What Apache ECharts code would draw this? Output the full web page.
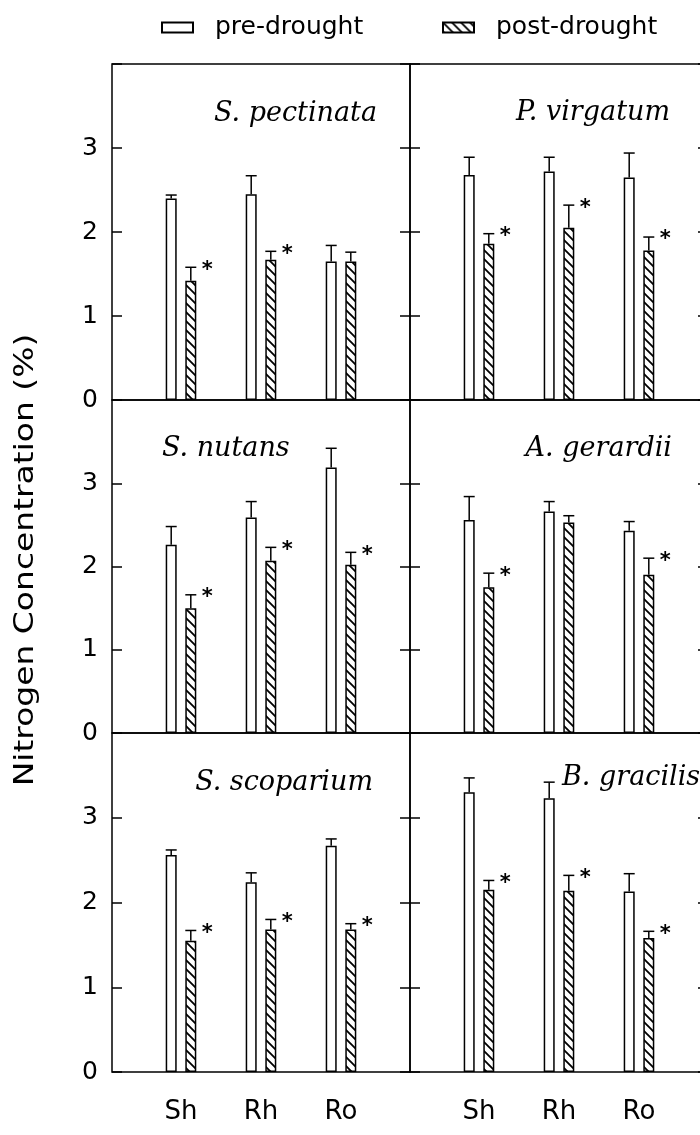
<!DOCTYPE html>
<html>
<head>
<meta charset="utf-8">
<script src="https://cdn.jsdelivr.net/npm/echarts@6/dist/echarts.min.js"></script>
<style>
  html, body { margin: 0; padding: 0; background: #fff; }
  #chart { width: 700px; height: 1135px; }
</style>
</head>
<body>
<div id="chart"></div>
<script>
// plant parts on the x axis
const parts = ['Sh', 'Rh', 'Ro'];
// panels, row by row (left, right)
const species = ['S. pectinata', 'P. virgatum', 'S. nutans', 'A. gerardii', 'S. scoparium', 'B. gracilis'];

// nitrogen concentration (%) before the drought
const preMean = [
  [2.40, 2.45, 1.65],
  [2.68, 2.72, 2.65],
  [2.26, 2.59, 3.19],
  [2.56, 2.66, 2.43],
  [2.56, 2.24, 2.67],
  [3.30, 3.23, 2.13]
];
const preErr = [
  [0.04, 0.22, 0.19],
  [0.21, 0.17, 0.29],
  [0.22, 0.19, 0.23],
  [0.28, 0.12, 0.11],
  [0.06, 0.11, 0.08],
  [0.17, 0.19, 0.21]
];
// after the drought
const postMean = [
  [1.42, 1.67, 1.65],
  [1.86, 2.05, 1.78],
  [1.50, 2.07, 2.02],
  [1.75, 2.53, 1.90],
  [1.55, 1.68, 1.68],
  [2.15, 2.14, 1.58]
];
const postErr = [
  [0.16, 0.10, 0.11],
  [0.12, 0.27, 0.16],
  [0.16, 0.16, 0.15],
  [0.17, 0.08, 0.20],
  [0.12, 0.12, 0.07],
  [0.11, 0.18, 0.08]
];
// 1 = significant change (asterisk)
const postSig = [
  [1, 1, 0],
  [1, 1, 1],
  [1, 1, 1],
  [1, 0, 1],
  [1, 1, 1],
  [1, 1, 1]
];

const FONT = 'DejaVu Sans';
const FRAME_X = [112, 410];
const FRAME_W = 298;
const ROW_TOP = [64, 400, 733];
const ROW_BOT = [400, 733, 1072];
const BAR_W = 11;
const BAR_GAP = 8.6;
const CAP = 5.5;

// diagonal hatching for the post-drought bars
function hatch() {
  const c = document.createElement('canvas');
  c.width = 9; c.height = 9;
  const g = c.getContext('2d');
  g.strokeStyle = '#000';
  g.lineWidth = 1.8;
  g.beginPath();
  g.moveTo(-1, -1); g.lineTo(10, 10);
  g.moveTo(-1, 8); g.lineTo(1, 10);
  g.moveTo(8, -1); g.lineTo(10, 1);
  g.stroke();
  return c;
}
const hatchFill = { image: hatch(), repeat: 'repeat' };

function errRender(offset) {
  return function (params, api) {
    const i = api.value(0);
    const base = api.coord([i, api.value(1)]);
    const top = api.coord([i, api.value(1) + api.value(2)]);
    const x = base[0] + offset;
    const st = { stroke: '#000', lineWidth: 1.5 };
    const kids = [
      { type: 'line', shape: { x1: x, y1: base[1], x2: x, y2: top[1] }, style: st },
      { type: 'line', shape: { x1: x - CAP, y1: top[1], x2: x + CAP, y2: top[1] }, style: st }
    ];
    if (api.value(3)) {
      kids.push({
        type: 'text', x: x + BAR_W / 2 + 11, y: top[1] + 3,
        style: { text: '*', fill: '#000', font: 'bold 21px "' + FONT + '"', align: 'center', verticalAlign: 'middle' }
      });
    }
    return { type: 'group', children: kids };
  };
}

const grids = [], xAxes = [], yAxes = [], series = [];
for (let i = 0; i < 6; i++) {
  const row = Math.floor(i / 2), col = i % 2;
  grids.push({
    left: FRAME_X[col], top: ROW_TOP[row], width: FRAME_W, height: ROW_BOT[row] - ROW_TOP[row],
    show: true, borderColor: '#000', borderWidth: 1.5, backgroundColor: 'transparent', outerBoundsMode: 'none'
  });
}
for (let i = 0; i < 6; i++) {
  const row = Math.floor(i / 2), col = i % 2;
  grids.push({
    left: FRAME_X[col] + 29, top: ROW_TOP[row], width: 240, height: ROW_BOT[row] - ROW_TOP[row],
    show: false, outerBoundsMode: 'none'
  });
}
for (let i = 0; i < 6; i++) {
  xAxes.push({ gridIndex: i, type: 'value', min: 0, max: 1, show: false });
}
for (let i = 0; i < 6; i++) {
  const row = Math.floor(i / 2);
  xAxes.push({
    gridIndex: 6 + i, type: 'category', data: parts,
    axisLine: { show: false }, axisTick: { show: false },
    axisLabel: { show: row === 2, color: '#000', fontFamily: FONT, fontSize: 26, margin: 27 }
  });
}
const tickStyle = { inside: true, length: 10, lineStyle: { color: '#000', width: 1.5 } };
for (let i = 0; i < 6; i++) {
  const col = i % 2;
  yAxes.push({
    gridIndex: i, type: 'value', min: 0, max: 4, interval: 1, position: 'left',
    axisLine: { show: false }, axisTick: tickStyle, splitLine: { show: false },
    axisLabel: {
      show: col === 0, color: '#000', fontFamily: FONT, fontSize: 25, margin: 14,
      formatter: v => (v === 4 ? '' : String(v))
    }
  });
}
for (let i = 0; i < 6; i++) {
  yAxes.push({
    gridIndex: i, type: 'value', min: 0, max: 4, interval: 1, position: 'right',
    axisLine: { show: false }, axisTick: tickStyle, splitLine: { show: false },
    axisLabel: { show: false }
  });
}
for (let i = 0; i < 6; i++) {
  yAxes.push({ gridIndex: 6 + i, type: 'value', min: 0, max: 4, show: false });
}

const off = (BAR_W + BAR_GAP) / 2;
for (let i = 0; i < 6; i++) {
  const common = {
    type: 'bar', xAxisIndex: 6 + i, yAxisIndex: 12 + i,
    barWidth: BAR_W, barGap: (BAR_GAP / BAR_W * 100) + '%', silent: true
  };
  series.push(Object.assign({}, common, {
    name: 'pre-drought', data: preMean[i],
    itemStyle: { color: '#fff', borderColor: '#000', borderWidth: 1.5 }
  }));
  series.push(Object.assign({}, common, {
    name: 'post-drought', data: postMean[i],
    itemStyle: { color: hatchFill, borderColor: '#000', borderWidth: 1.5 }
  }));
  series.push({
    type: 'custom', xAxisIndex: 6 + i, yAxisIndex: 12 + i, silent: true, z: 5,
    renderItem: errRender(-off),
    data: preMean[i].map((v, k) => [k, v, preErr[i][k], 0])
  });
  series.push({
    type: 'custom', xAxisIndex: 6 + i, yAxisIndex: 12 + i, silent: true, z: 5,
    renderItem: errRender(off),
    data: postMean[i].map((v, k) => [k, v, postErr[i][k], postSig[i][k]])
  });
}

// species labels: [x, y, align]
const labelPos = [
  [377, 114, 'right'],
  [670, 113, 'right'],
  [162, 449, 'left'],
  [672, 449, 'right'],
  [373, 783, 'right'],
  [562, 778, 'left']
];
const graphics = species.map((s, i) => ({
  type: 'text', x: labelPos[i][0], y: labelPos[i][1], z: 10,
  style: {
    text: s, fill: '#000', font: 'italic 27px "DejaVu Serif"',
    align: labelPos[i][2], verticalAlign: 'middle'
  }
}));
graphics.push({
  type: 'text', x: 26, y: 560, rotation: Math.PI / 2, scaleX: 1.22, z: 10,
  style: {
    text: 'Nitrogen Concentration (%)', fill: '#000', font: '27px "' + FONT + '"',
    align: 'center', verticalAlign: 'middle'
  }
});

const legendBase = {
  top: 10, icon: 'rect', itemWidth: 31, itemHeight: 10, selectedMode: false,
  textStyle: { color: '#000', fontFamily: FONT, fontSize: 25, padding: [0, 0, 0, 17] }
};

const chart = echarts.init(document.getElementById('chart'), null, { renderer: 'canvas' });
chart.setOption({
  animation: false,
  backgroundColor: '#fff',
  legend: [
    Object.assign({}, legendBase, { data: ['pre-drought'], left: 156 }),
    Object.assign({}, legendBase, { data: ['post-drought'], left: 437 })
  ],
  grid: grids,
  xAxis: xAxes,
  yAxis: yAxes,
  series: series,
  graphic: graphics
});
window.onresize = function () {
  chart.resize();
};
</script>
</body>
</html>
